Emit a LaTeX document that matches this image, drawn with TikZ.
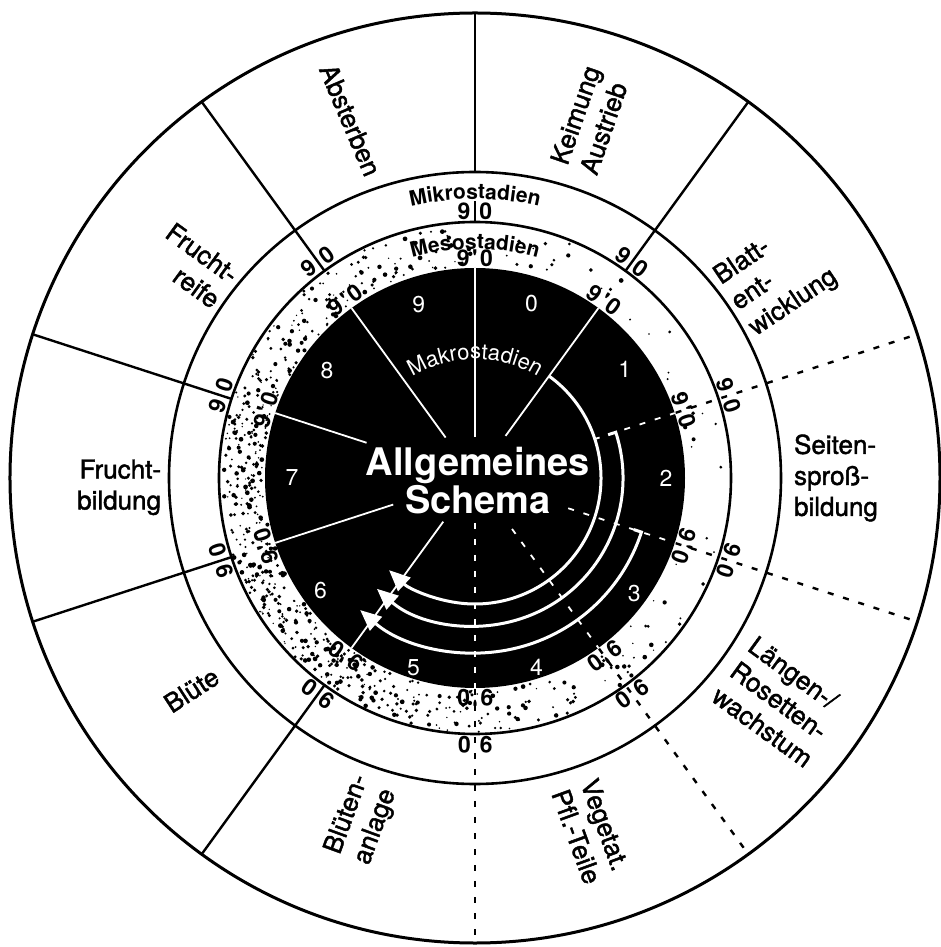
\documentclass[tikz,border=0pt]{standalone}
\usepackage{fontspec}
\setmainfont{TeX Gyre Heros}
\newfontfamily\labelfont{TeX Gyre Heros}[FakeBold=1.6]
\usetikzlibrary{arrows.meta,decorations.text,positioning}

\begin{document}
\begin{tikzpicture}[x=1pt,y=1pt,line width=2pt]
	\tikzstyle{sector}=[font=\labelfont\fontsize{26}{31}\selectfont,inner sep=0pt]
	\tikzstyle{mikro}=[font=\fontsize{23}{23}\bfseries,inner sep=0pt]
	\tikzstyle{meso}=[font=\fontsize{23}{23}\bfseries,inner sep=0pt]
	\tikzstyle{makro}=[font=\fontsize{23}{23}\selectfont,text=white,inner sep=0pt]
	\tikzstyle{border}=[line width=2.4pt]
	\tikzstyle{wline}=[draw=white,line width=1.8pt]
	\tikzstyle{dashes}=[dash pattern=on 6pt off 10pt]
	\tikzstyle{sweep}=[draw=white,line width=3pt,-{Triangle[length=21pt,width=18pt,fill=white]}]
	\useasboundingbox (-475,-469) rectangle (465,478);
	\fill[white] (-475,-469) rectangle (465,478);
	% rings
	\draw[line width=3pt] (0,0) circle (465);
	\draw[line width=2.6pt] (0,0) circle (306);
	\draw[line width=2.6pt] (0,0) circle (256);
	% speckled ring
	\pgfmathsetseed{11}
	\foreach \i in {1,...,1500}{
		\pgfmathsetmacro\ang{rnd*360}
		\pgfmathsetmacro\rad{212+rnd*42}
		\pgfmathtruncatemacro\keep{(rnd < 0.08+0.92*((1+cos(\ang-200))/2)^1.8) ? 1 : 0}
		\ifnum\keep=1 \fill (\ang:\rad) circle ({0.7+1.7*rnd}); \fi
	}
	\fill (0,0) circle (210);
	% stage borders
	\foreach \a in {54,126,162,198,234}
		\draw[border] (\a:256) -- (\a:465);
	\draw[border] (90:256) -- (90:277);
	\draw[border] (90:306) -- (90:465);
	\foreach \a in {18,-18,-54,-90}
		\draw[border,dashes] (\a:211) -- (\a:465);
	\foreach \a/\r in {90/41,54/52,126/50,162/114,198/86,234/54}
		\draw[wline] (\a:\r) -- (\a:210);
	\foreach \a/\r in {18/125,-18/98,-54/63,-90/45}
		\draw[wline,dashes] (\a:\r) -- (\a:210);
	% course of development
	\draw[sweep] (54:126) arc[start angle=54,end angle=-133,radius=126];
	\draw[sweep] (18:140) -- (18:148) arc[start angle=18,end angle=-131.5,radius=148];
	\draw[sweep] (-18:167) -- (-18:175) arc[start angle=-18,end angle=-131,radius=175];
	% macro stages
	\foreach \n/\r in {0/183,1/185,2/191,3/197,4/199,5/199,6/191,7/183,8/183,9/182}
		\node[makro] (ma\n) at ({72-36*\n}:\r) {\n};
	\node[text=white,font=\fontsize{38}{38}\bfseries,align=center,inner sep=0pt] (schema) at (3,-3) {Allgemeines\\Schema};
	\path[decorate,decoration={text along path,text align=center,text color=white,
		text={|\fontsize{22}{22}\selectfont|Makrostadien}}]
		(130:119) arc[start angle=130,end angle=50,radius=119];
	\path[decorate,decoration={text along path,text align=center,
		text={|\fontsize{21}{21}\bfseries|Mesostadien}}]
		(110:229) arc[start angle=110,end angle=70,radius=229];
	\path[decorate,decoration={text along path,text align=center,
		text={|\fontsize{21}{21}\bfseries|Mikrostadien}}]
		(106:279) arc[start angle=106,end angle=74,radius=279];
	% micro and meso stage numbers
	\foreach \a [count=\k] in {90,54,18,-18,-54,-90,-126,-162,-198,-234}{
		\node[mikro,rotate=\a-90] (mi\k) at (\a:267) {9\hspace{9pt}0};
		\node[meso,rotate=\a-90] (me\k) at (\a:220) {9\kern2.5pt\textquotesingle\kern2.5pt0};
	}
	% principal growth stages
	\node[sector,rotate=71,align=left] (keimung) at (72.2:376) {Keimung\\Austrieb};
	\node[sector,rotate=34,align=left] (blatt) at (33.7:362) {Blatt-\\ent-\\wicklung};
	\node[sector,align=left] (seiten) at (0:361) {Seiten-\\sproß-\\bildung};
	\node[sector,rotate=-36,align=left] (laengen) at (-36.2:379) {Längen-/\\Rosetten-\\wachstum};
	\node[sector,rotate=-70,align=left] (vegetat) at (-71.8:372) {Vegetat.\\Pfl.-Teile};
	\node[sector,rotate=70,align=left] (anlage) at (251.7:360) {Blüten-\\anlage};
	\node[sector,rotate=33] (bluete) at (216.8:354) {Blüte};
	\node[sector,align=right] (fbildung) at (181.5:356) {Frucht-\\bildung};
	\node[sector,rotate=-36,align=right] (freife) at (143:353) {Frucht-\\reife};
	\node[sector,rotate=-67] (absterben) at (109.2:379) {Absterben};
\end{tikzpicture}
\end{document}
